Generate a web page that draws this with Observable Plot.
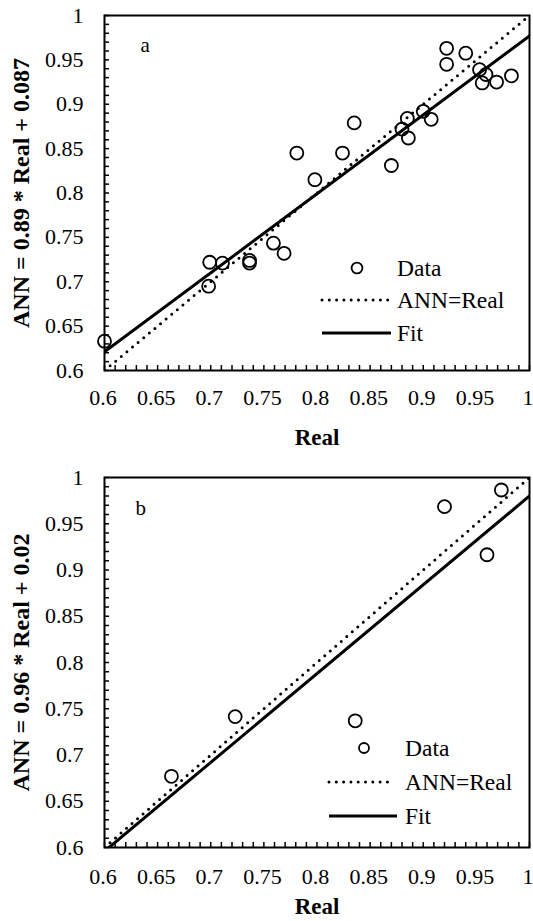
<!DOCTYPE html>
<html>
<head>
<meta charset="utf-8">
<script src="https://cdn.jsdelivr.net/npm/d3@7"></script>
<script src="https://cdn.jsdelivr.net/npm/@observablehq/plot@0.6"></script>
<style>
  html, body { margin: 0; padding: 0; background: #fff; }
  #panelA svg, #panelB svg { display: block; }
</style>
</head>
<body>
<div id="panelA"></div>
<div id="panelB"></div>
<script>
// ---- Tick values and labels (both axes, both panels)
const axisTicks = [0.6, 0.65, 0.7, 0.75, 0.8, 0.85, 0.9, 0.95, 1];
const axisTickLabels = ["0.6", "0.65", "0.7", "0.75", "0.8", "0.85", "0.9", "0.95", "1"];
const minorTicks = d3.range(60, 101).map(i => i / 100);

// ---- Panel a data
const realA = [0.922, 0.922, 0.940, 0.953, 0.959, 0.9555, 0.969, 0.983,
               0.900, 0.9075, 0.885, 0.880, 0.886, 0.870, 0.835, 0.824, 0.781, 0.798,
               0.759, 0.769, 0.7365, 0.7365, 0.711, 0.699, 0.698, 0.600];
const annA  = [0.963, 0.945, 0.9575, 0.939, 0.9335, 0.924, 0.925, 0.932,
               0.892, 0.883, 0.884, 0.872, 0.862, 0.831, 0.879, 0.845, 0.845, 0.815,
               0.7435, 0.732, 0.724, 0.721, 0.721, 0.722, 0.695, 0.633];
const slopeA = 0.89, interceptA = 0.087;
const yLabelA = "ANN = 0.89 * Real + 0.087";
const letterA = "a";

// ---- Panel b data
const realB = [0.920, 0.9735, 0.960, 0.836, 0.723, 0.663];
const annB  = [0.9685, 0.9865, 0.9165, 0.737, 0.7415, 0.677];
const slopeB = 0.96, interceptB = 0.02;
const yLabelB = "ANN = 0.96 * Real + 0.02";
const letterB = "b";

const xLabel = "Real";
const legendLabels = ["Data", "ANN=Real", "Fit"];
const fitEnds = [0.6, 1];

const FONT = "Liberation Serif, Times New Roman, Times, serif";

function legendMark(L) {
  return (index, scales, values, dims) => {
    const ox = dims.marginLeft, oy = dims.marginTop;
    const g = d3.create("svg:g")
      .attr("font-family", FONT)
      .attr("font-size", 23.5)
      .attr("text-anchor", "start")
      .attr("fill", "black");
    g.append("circle")
      .attr("cx", ox + L.cx).attr("cy", oy + L.cy).attr("r", L.r)
      .attr("fill", "none").attr("stroke", "black").attr("stroke-width", 1.8);
    g.append("line")
      .attr("x1", ox + L.lx1).attr("x2", ox + L.lx2)
      .attr("y1", oy + L.ty[1]).attr("y2", oy + L.ty[1])
      .attr("stroke", "black").attr("stroke-width", 3)
      .attr("stroke-linecap", "round").attr("stroke-dasharray", "0 7.3");
    g.append("line")
      .attr("x1", ox + L.lx1).attr("x2", ox + L.lx2 + 3)
      .attr("y1", oy + L.ty[2]).attr("y2", oy + L.ty[2])
      .attr("stroke", "black").attr("stroke-width", 3);
    legendLabels.forEach((t, i) => {
      g.append("text")
        .attr("text-anchor", "start")
        .attr("x", ox + L.tx).attr("y", oy + L.ty[i])
        .attr("dy", "0.32em").text(t);
    });
    return g.node();
  };
}

function panel(cfg) {
  const width = 533, marginLeft = 104, marginRight = 4;
  const fw = width - marginLeft - marginRight;
  const fh = cfg.height - cfg.marginTop - cfg.marginBottom;
  const pts = cfg.real.map((r, i) => ({real: r, ann: cfg.ann[i]}));
  const fit = fitEnds.map(x => ({real: x, ann: cfg.slope * x + cfg.intercept}));
  const identity = fitEnds.map(x => ({real: x, ann: x}));
  const fmt = d => axisTickLabels[axisTicks.findIndex(t => Math.abs(t - d) < 1e-9)];
  const svg = Plot.plot({
    width, height: cfg.height,
    marginTop: cfg.marginTop, marginBottom: cfg.marginBottom,
    marginLeft, marginRight,
    style: `font-family: ${FONT}; font-size: 22px; color: black; background: white;`,
    x: {domain: [0.6, 1]},
    y: {domain: [0.6, 1]},
    marks: [
      Plot.line(identity, {x: "real", y: "ann", stroke: "black", strokeWidth: 3,
        strokeLinecap: "round", strokeDasharray: "0 7.3", clip: true}),
      Plot.line(fit, {x: "real", y: "ann", stroke: "black", strokeWidth: 3, clip: true}),
      Plot.dot(pts, {x: "real", y: "ann", r: 6.5, fill: "none", stroke: "black", strokeWidth: 1.8}),
      Plot.tickX(minorTicks, {x: d => d, insetTop: fh - 5, stroke: "black", strokeWidth: 1.5}),
      Plot.tickY(minorTicks, {y: d => d, insetRight: fw - 5, stroke: "black", strokeWidth: 1.5}),
      Plot.frame({stroke: "black", strokeWidth: 2}),
      Plot.axisX({ticks: axisTicks, tickSize: 0, tickPadding: cfg.tickPadX, tickFormat: fmt, label: null,
        dx: -1.5, fontFamily: FONT, fontSize: 22, fill: "black"}),
      Plot.axisY({ticks: axisTicks, tickSize: 0, tickPadding: 21, tickFormat: fmt, label: null,
        fontFamily: FONT, fontSize: 22, fill: "black"}),
      Plot.text([xLabel], {text: d => d, frameAnchor: "bottom", dy: cfg.realDy,
        fontFamily: FONT, fontWeight: "bold", fontSize: 23, lineAnchor: "middle", fill: "black"}),
      Plot.text([cfg.yLabel], {text: d => d, frameAnchor: "left", dx: -83.5, rotate: -90,
        fontFamily: FONT, fontWeight: "bold", fontSize: 24, textAnchor: "middle", lineAnchor: "middle", fill: "black"}),
      Plot.text([cfg.letter], {text: d => d, frameAnchor: "top-left", dx: cfg.letterDx, dy: cfg.letterDy,
        fontFamily: FONT, fontSize: 21, textAnchor: "start", lineAnchor: "middle", fill: "black"}),
      legendMark(cfg.legend)
    ]
  });
  svg.style.fontFamily = FONT;
  return svg;
}

document.getElementById("panelA").append(panel({
  real: realA, ann: annA, slope: slopeA, intercept: interceptA,
  yLabel: yLabelA, letter: letterA,
  height: 460, marginTop: 15, marginBottom: 90,
  tickPadX: 19, realDy: 67, letterDx: 36, letterDy: 30,
  legend: {cx: 253, cy: 253, r: 5.4, lx1: 218, lx2: 284, tx: 293, ty: [253, 285, 318]}
}));

document.getElementById("panelB").append(panel({
  real: realB, ann: annB, slope: slopeB, intercept: interceptB,
  yLabel: yLabelB, letter: letterB,
  height: 461, marginTop: 17, marginBottom: 74,
  tickPadX: 21, realDy: 59, letterDx: 31, letterDy: 31,
  legend: {cx: 260, cy: 271, r: 5, lx1: 225, lx2: 290, tx: 301, ty: [271, 305, 339]}
}));
</script>
</body>
</html>
